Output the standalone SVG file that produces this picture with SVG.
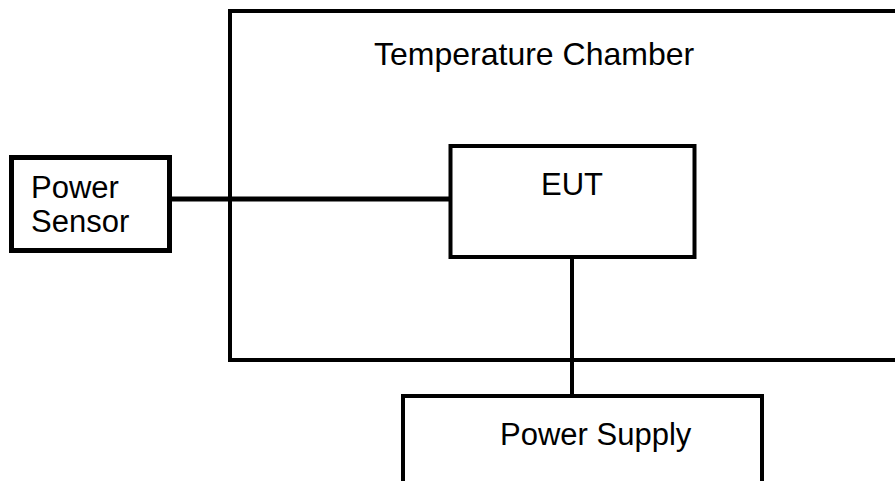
<svg xmlns="http://www.w3.org/2000/svg" width="895" height="481" viewBox="0 0 895 481">
<style>
.box{fill:none;stroke:#000;stroke-width:4}
.lbl{font-family:"Liberation Sans",Arial,sans-serif;font-size:31px;fill:#000}
.conn{stroke:#000;fill:none}
</style>
<rect width="895" height="481" fill="#fff"/>
<g id="chamber">
<rect class="box" x="230" y="11" width="700" height="349"/>
<text class="lbl" x="374" y="65" style="font-size:32px">Temperature Chamber</text>
</g>
<g id="power-sensor">
<rect class="box" x="11.5" y="157.5" width="158" height="93" style="stroke-width:5"/>
<text class="lbl" x="31" y="198">Power</text>
<text class="lbl" x="31" y="232">Sensor</text>
</g>
<g id="eut">
<rect class="box" x="450.5" y="146" width="244" height="111"/>
<text class="lbl" x="541" y="195">EUT</text>
</g>
<g id="power-supply">
<rect class="box" x="403" y="396" width="359" height="120"/>
<text class="lbl" x="500" y="445">Power Supply</text>
</g>
<g id="connectors">
<line class="conn" x1="170" y1="199" x2="450" y2="199" stroke-width="5"/>
<line class="conn" x1="572" y1="257" x2="572" y2="396" stroke-width="4"/>
</g>
</svg>
